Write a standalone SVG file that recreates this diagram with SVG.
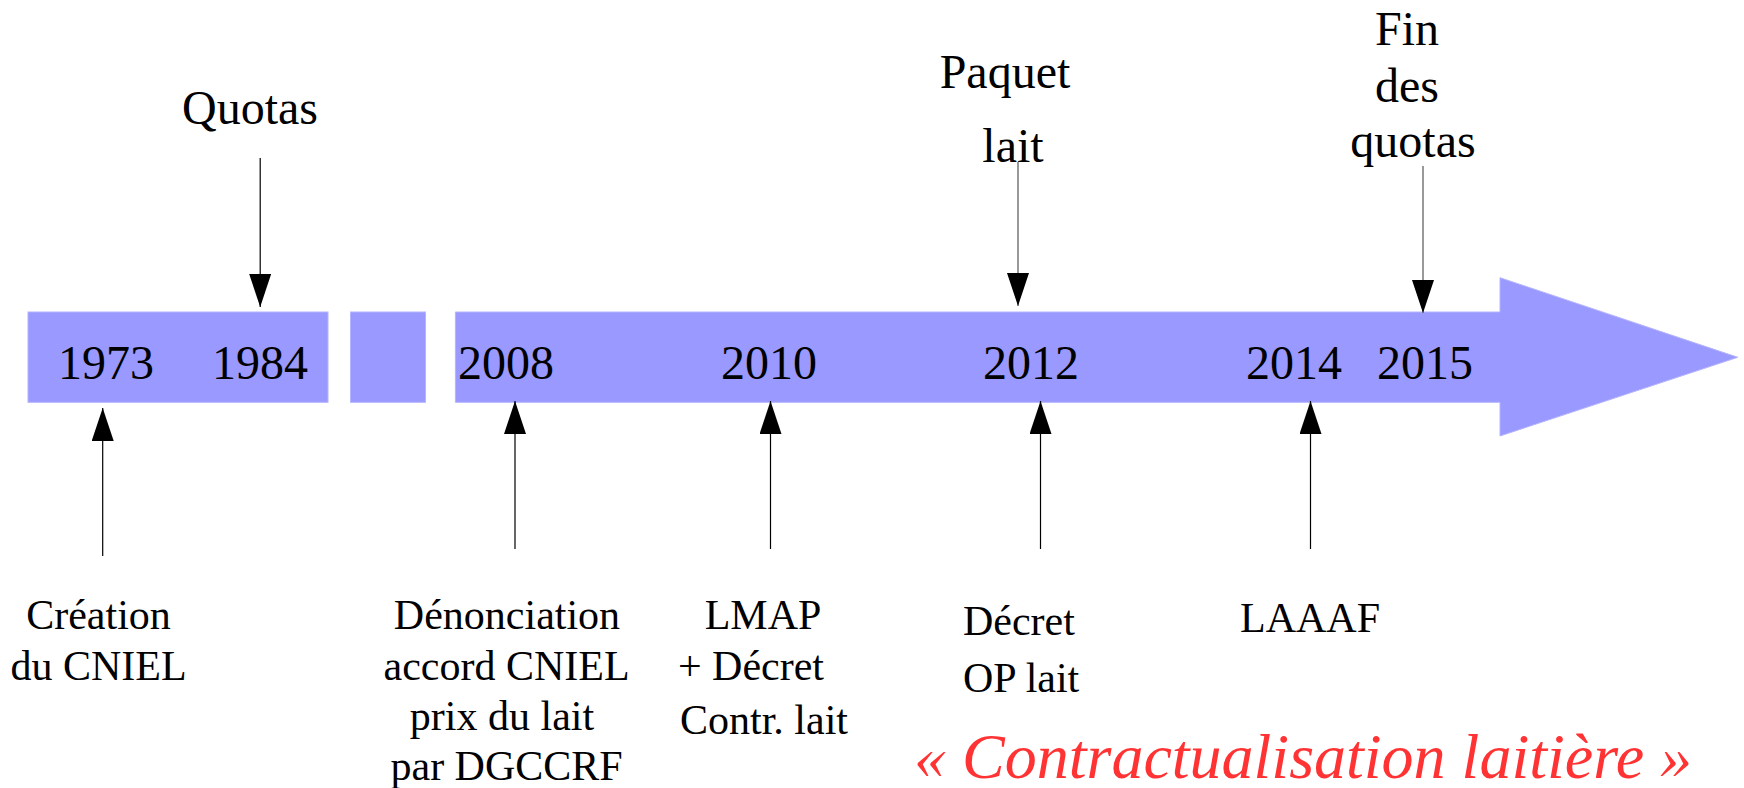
<svg xmlns="http://www.w3.org/2000/svg" width="1744" height="788" viewBox="0 0 1744 788">
<style>
.bar{fill:#9999ff;stroke:#b4b4ff;stroke-width:1;}
.t{font-family:"Liberation Serif","Times New Roman",serif;fill:#000;}
.yr{font-size:48px;text-anchor:middle;}
.top{font-size:48px;text-anchor:middle;}
.bot{font-size:42px;}
.mid{text-anchor:middle;}
.red{font-family:"Liberation Serif","Times New Roman",serif;font-style:italic;font-size:64px;fill:#ff3333;}
.cb{stroke:#000;stroke-width:1.2;fill:none;}
.cg{stroke:#777;stroke-width:1.5;fill:none;}
</style>
<defs>
<marker id="head" markerUnits="userSpaceOnUse" markerWidth="34" markerHeight="22" refX="33" refY="11" orient="auto" viewBox="0 0 34 22">
<path d="M0,0 L33,11 L0,22 z" fill="#000"/>
</marker>
</defs>
<rect width="1744" height="788" fill="#fff"/>
<g id="timeline">
<rect class="bar" x="28" y="312" width="300" height="90.3"/>
<rect class="bar" x="350.5" y="312" width="75" height="90.3"/>
<polygon class="bar" points="455.4,312 1500,312 1500,277.7 1737.8,357.3 1500,436 1500,402.3 455.4,402.3"/>
<text class="t yr" x="106" y="379">1973</text>
<text class="t yr" x="260" y="379">1984</text>
<text class="t yr" x="506" y="379">2008</text>
<text class="t yr" x="769" y="379">2010</text>
<text class="t yr" x="1031" y="379">2012</text>
<text class="t yr" x="1294" y="379">2014</text>
<text class="t yr" x="1425" y="379">2015</text>
</g>
<g id="connectors">
<line class="cb" x1="260.2" y1="158" x2="260.2" y2="307" marker-end="url(#head)"/>
<line class="cg" x1="1018" y1="162" x2="1018" y2="306" marker-end="url(#head)"/>
<line class="cg" x1="1423" y1="166" x2="1423" y2="313" marker-end="url(#head)"/>
<line class="cb" x1="102.7" y1="556" x2="102.7" y2="408" marker-end="url(#head)"/>
<line class="cb" x1="515" y1="549" x2="515" y2="401" marker-end="url(#head)"/>
<line class="cb" x1="770.5" y1="549" x2="770.5" y2="401" marker-end="url(#head)"/>
<line class="cb" x1="1040.5" y1="549" x2="1040.5" y2="401" marker-end="url(#head)"/>
<line class="cb" x1="1310.5" y1="549" x2="1310.5" y2="401" marker-end="url(#head)"/>
</g>
<g id="quotas">
<text class="t top" x="250" y="124">Quotas</text>
</g>
<g id="paquet-lait">
<text class="t top" x="1005" y="88">Paquet</text>
<text class="t top" x="1013" y="162">lait</text>
</g>
<g id="fin-quotas">
<text class="t top" x="1407" y="45">Fin</text>
<text class="t top" x="1407" y="101.7">des</text>
<text class="t top" x="1413" y="156.7">quotas</text>
</g>
<g id="creation-cniel">
<text class="t bot mid" x="98.5" y="629">Création</text>
<text class="t bot mid" x="98.5" y="680">du CNIEL</text>
</g>
<g id="denonciation">
<text class="t bot mid" x="507" y="629">Dénonciation</text>
<text class="t bot mid" x="506.6" y="680">accord CNIEL</text>
<text class="t bot mid" x="502" y="730">prix du lait</text>
<text class="t bot mid" x="506.6" y="780">par DGCCRF</text>
</g>
<g id="lmap">
<text class="t bot mid" x="763" y="629">LMAP</text>
<text class="t bot mid" x="751" y="680">+ Décret</text>
<text class="t bot mid" x="764" y="734">Contr. lait</text>
</g>
<g id="decret-op">
<text class="t bot" x="963" y="635">Décret</text>
<text class="t bot" x="963" y="692">OP lait</text>
</g>
<g id="laaaf">
<text class="t bot mid" x="1310" y="632">LAAAF</text>
</g>
<g id="contractualisation">
<text class="red" x="914" y="778">« Contractualisation laitière »</text>
</g>
</svg>
